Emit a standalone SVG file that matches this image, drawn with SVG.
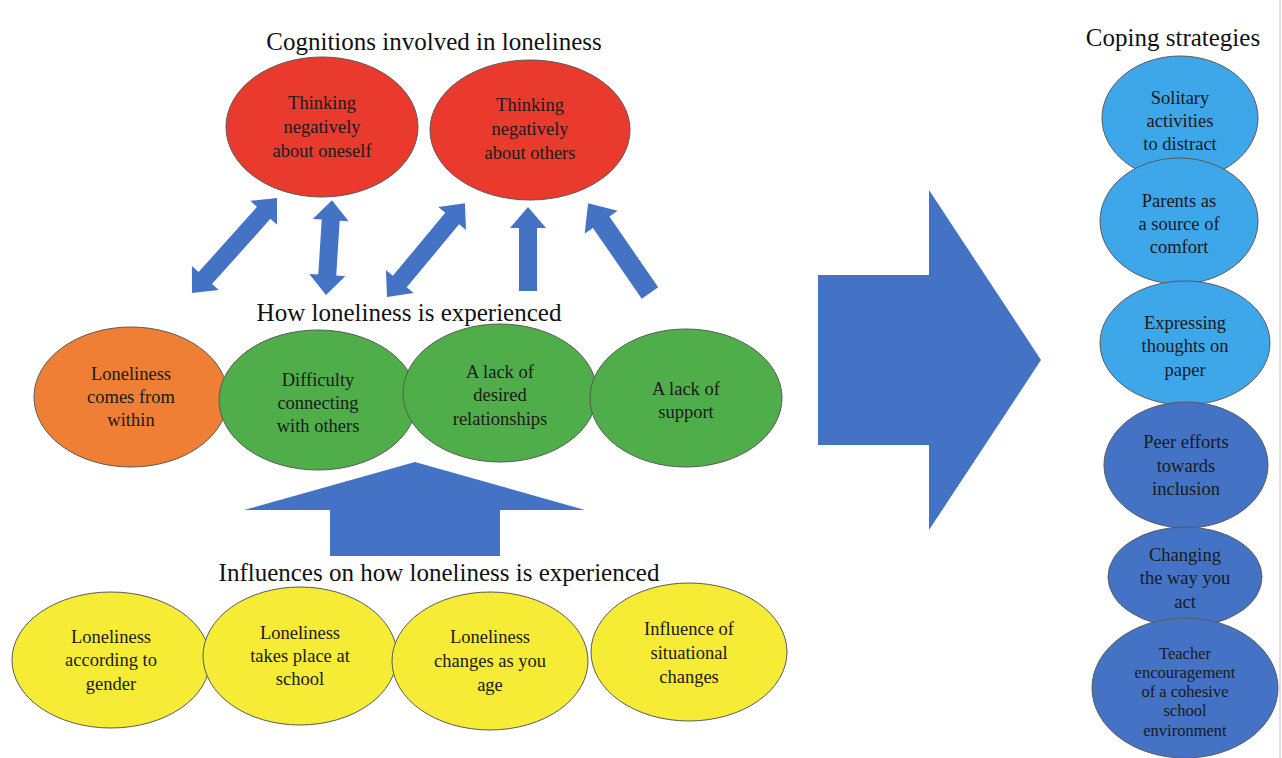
<svg xmlns="http://www.w3.org/2000/svg" width="1282" height="758" viewBox="0 0 1282 758">
  <style>
    .title { font-family: "Liberation Serif", "Times New Roman", serif; font-size: 25px; fill: #111; text-anchor: middle; }
    .lbl { font-family: "Liberation Serif", "Times New Roman", serif; font-size: 18.5px; fill: #1a1a1a; text-anchor: middle; }
    .sm { font-size: 16.5px; }
    .node { stroke: #5a5a5a; stroke-width: 1; }
    .red { fill: #ea3a2e; }
    .orange { fill: #ee7f35; }
    .green { fill: #4fae4a; }
    .yellow { fill: #f6ec35; }
    .lblue { fill: #3da7ea; }
    .dblue { fill: #4473c5; }
    .arrow { fill: #4472c4; }
  </style>

  <rect width="1282" height="758" fill="#ffffff"/>
  <line x1="1280" y1="0" x2="1280" y2="758" stroke="#d8d8d8" stroke-width="1.5"/>

  <!-- connectors -->
  <g id="connectors">
    <!-- double arrows between experience row and cognitions -->
    <path class="arrow" transform="translate(192,293) rotate(-48.2)" d="M0,0 L20,-18 L20,-9 L107.5,-9 L107.5,-18 L127.5,0 L107.5,18 L107.5,9 L20,9 L20,18 Z"/>
    <path class="arrow" transform="translate(326,295) rotate(-86.4)" d="M0,0 L20,-18 L20,-9 L75,-9 L75,-18 L95,0 L75,18 L75,9 L20,9 L20,18 Z"/>
    <path class="arrow" transform="translate(387,297) rotate(-50.3)" d="M0,0 L20,-18 L20,-9 L102,-9 L102,-18 L122,0 L102,18 L102,9 L20,9 L20,18 Z"/>
    <!-- single arrows towards "about others" -->
    <path class="arrow" transform="translate(528,291) rotate(-90)" d="M0,-9 L63,-9 L63,-18 L84,0 L63,18 L63,9 L0,9 Z"/>
    <path class="arrow" transform="translate(650,293) rotate(-124.6)" d="M0,-10 L86,-10 L86,-20 L109,0 L86,20 L86,10 L0,10 Z"/>
    <!-- block arrow from influences up to experience -->
    <polygon class="arrow" points="415,462 585,510 500,510 500,556 330,556 330,510 244,510"/>
    <!-- block arrow towards coping strategies -->
    <polygon class="arrow" points="818,275 929,275 929,190 1041,360 929,530 929,445 818,445"/>
  </g>

  <!-- cognitions -->
  <g id="think-self">
    <ellipse class="node red" cx="322" cy="127" rx="96" ry="70"/>
    <text class="lbl" x="322" y="109">Thinking</text>
    <text class="lbl" x="322" y="133">negatively</text>
    <text class="lbl" x="322" y="157">about oneself</text>
  </g>
  <g id="think-others">
    <ellipse class="node red" cx="530" cy="130" rx="100" ry="70"/>
    <text class="lbl" x="530" y="111">Thinking</text>
    <text class="lbl" x="530" y="135">negatively</text>
    <text class="lbl" x="530" y="159">about others</text>
  </g>

  <!-- experience row -->
  <g id="from-within">
    <ellipse class="node orange" cx="131" cy="397" rx="97" ry="70"/>
    <text class="lbl" x="131" y="380">Loneliness</text>
    <text class="lbl" x="131" y="403">comes from</text>
    <text class="lbl" x="131" y="426">within</text>
  </g>
  <g id="difficulty-connecting">
    <ellipse class="node green" cx="318" cy="400" rx="99" ry="70"/>
    <text class="lbl" x="318" y="386">Difficulty</text>
    <text class="lbl" x="318" y="409">connecting</text>
    <text class="lbl" x="318" y="432">with others</text>
  </g>
  <g id="lack-relationships">
    <ellipse class="node green" cx="500" cy="393" rx="97" ry="69"/>
    <text class="lbl" x="500" y="378">A lack of</text>
    <text class="lbl" x="500" y="401">desired</text>
    <text class="lbl" x="500" y="425">relationships</text>
  </g>
  <g id="lack-support">
    <ellipse class="node green" cx="686" cy="398" rx="96" ry="69"/>
    <text class="lbl" x="686" y="395">A lack of</text>
    <text class="lbl" x="686" y="418">support</text>
  </g>

  <!-- influences row -->
  <g id="gender">
    <ellipse class="node yellow" cx="111" cy="660" rx="99" ry="68"/>
    <text class="lbl" x="111" y="643">Loneliness</text>
    <text class="lbl" x="111" y="666">according to</text>
    <text class="lbl" x="111" y="690">gender</text>
  </g>
  <g id="school">
    <ellipse class="node yellow" cx="300" cy="656" rx="97" ry="69"/>
    <text class="lbl" x="300" y="639">Loneliness</text>
    <text class="lbl" x="300" y="662">takes place at</text>
    <text class="lbl" x="300" y="685">school</text>
  </g>
  <g id="age">
    <ellipse class="node yellow" cx="490" cy="661" rx="98" ry="69"/>
    <text class="lbl" x="490" y="643">Loneliness</text>
    <text class="lbl" x="490" y="667">changes as you</text>
    <text class="lbl" x="490" y="691">age</text>
  </g>
  <g id="situational">
    <ellipse class="node yellow" cx="689" cy="652" rx="98" ry="69"/>
    <text class="lbl" x="689" y="635">Influence of</text>
    <text class="lbl" x="689" y="659">situational</text>
    <text class="lbl" x="689" y="683">changes</text>
  </g>

  <!-- coping strategies -->
  <g id="solitary">
    <ellipse class="node lblue" cx="1180" cy="118" rx="78" ry="62"/>
    <text class="lbl" x="1180" y="104">Solitary</text>
    <text class="lbl" x="1180" y="127">activities</text>
    <text class="lbl" x="1180" y="150">to distract</text>
  </g>
  <g id="parents">
    <ellipse class="node lblue" cx="1179" cy="221" rx="79" ry="63"/>
    <text class="lbl" x="1179" y="207">Parents as</text>
    <text class="lbl" x="1179" y="230">a source of</text>
    <text class="lbl" x="1179" y="253">comfort</text>
  </g>
  <g id="expressing">
    <ellipse class="node lblue" cx="1185" cy="343" rx="85" ry="62"/>
    <text class="lbl" x="1185" y="329">Expressing</text>
    <text class="lbl" x="1185" y="352">thoughts on</text>
    <text class="lbl" x="1185" y="376">paper</text>
  </g>
  <g id="peer">
    <ellipse class="node dblue" cx="1186" cy="465" rx="82" ry="63"/>
    <text class="lbl" x="1186" y="448">Peer efforts</text>
    <text class="lbl" x="1186" y="472">towards</text>
    <text class="lbl" x="1186" y="495">inclusion</text>
  </g>
  <g id="changing">
    <ellipse class="node dblue" cx="1185" cy="577" rx="77" ry="50"/>
    <text class="lbl" x="1185" y="561">Changing</text>
    <text class="lbl" x="1185" y="584">the way you</text>
    <text class="lbl" x="1185" y="608">act</text>
  </g>
  <g id="teacher">
    <ellipse class="node dblue" cx="1185" cy="688" rx="93" ry="70"/>
    <text class="lbl sm" x="1185" y="659">Teacher</text>
    <text class="lbl sm" x="1185" y="678">encouragement</text>
    <text class="lbl sm" x="1185" y="697">of a cohesive</text>
    <text class="lbl sm" x="1185" y="716">school</text>
    <text class="lbl sm" x="1185" y="736">environment</text>
  </g>

  <!-- section headings -->
  <text class="title" x="434" y="50">Cognitions involved in loneliness</text>
  <text class="title" x="409" y="321">How loneliness is experienced</text>
  <text class="title" x="439" y="581">Influences on how loneliness is experienced</text>
  <text class="title" x="1173" y="46">Coping strategies</text>
</svg>
